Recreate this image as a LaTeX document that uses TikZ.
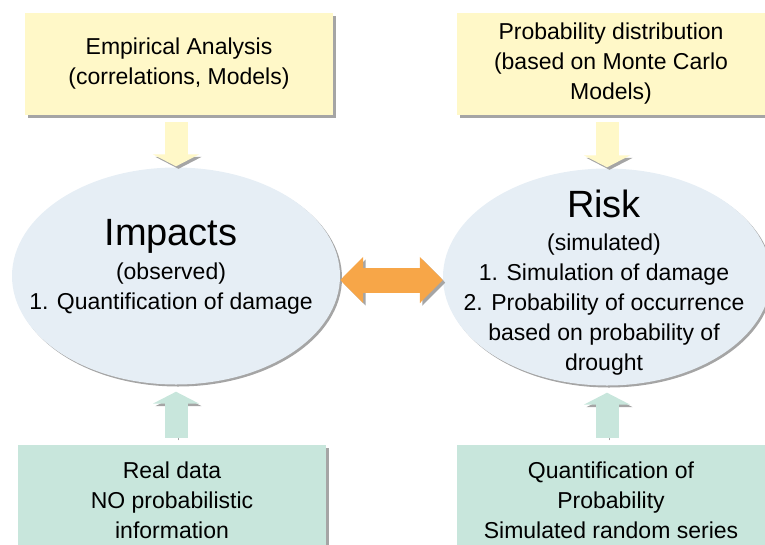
\documentclass[tikz,border=0pt]{standalone}
\usepackage{fontspec}
\setmainfont{Liberation Sans}
\usetikzlibrary{arrows.meta,shapes.geometric,shadows}

\definecolor{boxyellow}{RGB}{255,248,200}
\definecolor{boxgreen}{RGB}{200,230,220}
\definecolor{ellblue}{RGB}{230,238,245}
\definecolor{arrorange}{RGB}{247,166,72}
\definecolor{shadegray}{RGB}{165,165,165}

\newcommand{\bigtxt}{\fontsize{38}{40}\selectfont}
\newcommand{\midtxt}{\fontsize{23}{30}\selectfont}

\begin{document}
\begin{tikzpicture}[x=1pt,y=-1pt,
    every node/.append style={align=center,font=\midtxt,inner sep=0pt},
    infobox/.style={rectangle,minimum width=308pt,
      drop shadow={shadow xshift=3pt,shadow yshift=-3pt,fill=shadegray,opacity=1}},
    bubble/.style={ellipse,fill=ellblue,minimum width=328pt,minimum height=217pt,
      drop shadow={shadow xshift=2pt,shadow yshift=-2pt,fill=shadegray,opacity=1}},
    fatarrow/.style={line width=23pt,-{Triangle[width=46pt,length=12pt]},
      preaction={draw=shadegray,transform canvas={shift={(2.5pt,-2.5pt)}}}},
    twoway/.style={line width=25pt,{Triangle[width=45pt,length=23pt]}-{Triangle[width=45pt,length=23pt]},
      preaction={draw=shadegray,transform canvas={shift={(2.5pt,-2.5pt)}}}}]
    \useasboundingbox (0,0) rectangle (765,544);

    % top row
    \node[infobox,fill=boxyellow,minimum height=102pt] (emp)  at (179,64)
      {Empirical Analysis\\(correlations, Models)};
    \node[infobox,fill=boxyellow,minimum height=102pt] (prob) at (611,64)
      {Probability distribution\\(based on Monte Carlo\\Models)};

    % middle row
    \node[bubble] (imp)  at (176,276) {};
    \node[bubble] (risk) at (607,277) {};
    \node (imptxt)  at (171,267) {{\bigtxt Impacts}\\[4pt](observed)\\1. Quantification of damage};
    \node (risktxt) at (604,283) {{\bigtxt Risk}\\[3pt](simulated)\\1. Simulation of damage\\
      2. Probability of occurrence\\based on probability of\\drought};

    % bottom row
    \node[infobox,fill=boxgreen,minimum height=110pt] (real)  at (172,500)
      {Real data\\NO probabilistic\\information};
    \node[infobox,fill=boxgreen,minimum height=110pt] (quant) at (611,500)
      {Quantification of\\Probability\\Simulated random series};

    % block arrows
    \draw[fatarrow,draw=boxyellow,shorten <=7pt,shorten >=1pt] (imp.north |- emp.south) -- (imp.north);
    \draw[fatarrow,draw=boxyellow,shorten <=7pt,shorten >=1pt] (risk.north |- prob.south) -- (risk.north);
    \draw[fatarrow,draw=boxgreen,shorten <=7pt,shorten >=7pt] (imp.south |- real.north) -- (imp.south);
    \draw[fatarrow,draw=boxgreen,shorten <=7pt,shorten >=7pt] (risk.south |- quant.north) -- (risk.south);
    \draw[twoway,draw=arrorange] ([yshift=-4pt]imp.east) -- ([yshift=-3pt]risk.west);
\end{tikzpicture}
\end{document}
